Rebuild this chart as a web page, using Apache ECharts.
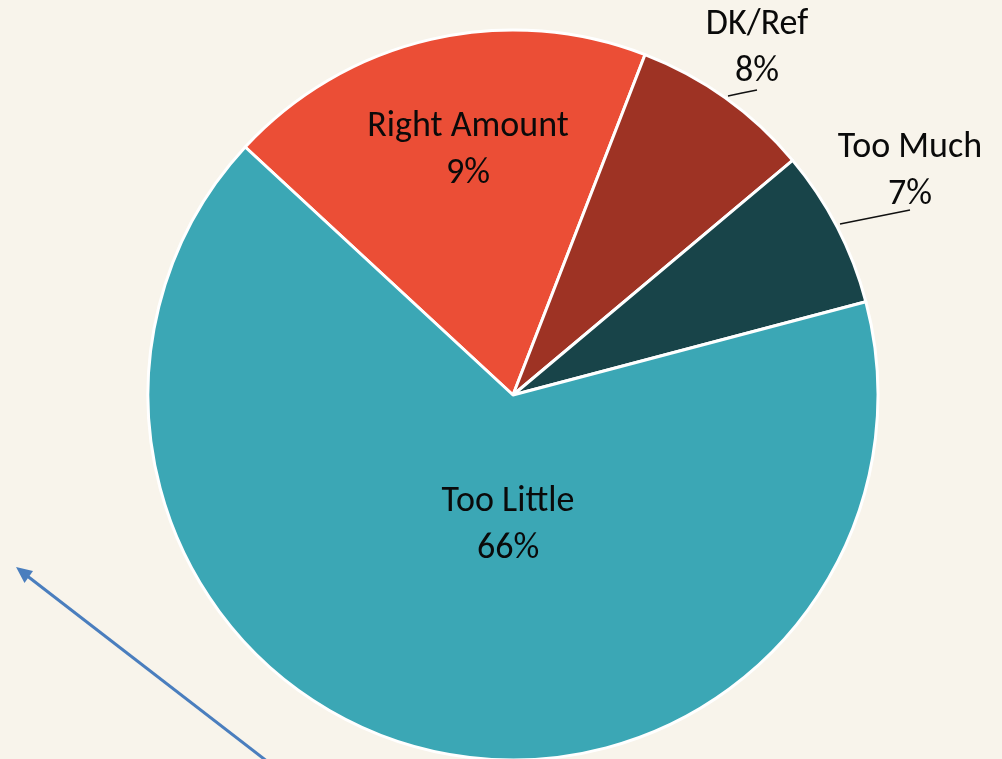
<!DOCTYPE html>
<html>
<head>
<meta charset="utf-8">
<script src="https://cdn.jsdelivr.net/npm/echarts@6/dist/echarts.min.js"></script>
<style>
  html, body { margin: 0; padding: 0; background: #f8f4eb; }
  #chart { width: 1002px; height: 759px; }
</style>
</head>
<body>
<div id="chart"></div>
<script>
// 数据（扇区大小按图形读取，标签文字照原图）
var categories = ['Right Amount', 'DK/Ref', 'Too Much', 'Too Little'];
var values = [19, 8, 7, 66];
var pctLabels = ['9%', '8%', '7%', '66%'];
var colors = ['#eb4e36', '#9e3324', '#184449', '#3ba7b5'];

// 标签位置（像素）及引导线
var labelPos = [[468, 150], [757, 48], [910, 171], [508, 525]];
var linePoints = [null, [[728, 96], [742, 93], [757, 90]], [[840, 224], [875, 217], [910, 210]], null];

var chart = echarts.init(document.getElementById('chart'));

var pieData = categories.map(function (name, i) {
  return {
    name: name,
    value: values[i],
    itemStyle: { color: colors[i] },
    labelLine: { show: !!linePoints[i] }
  };
});

chart.setOption({
  backgroundColor: '#f8f4eb',
  animation: false,
  series: [{
    type: 'pie',
    center: [513, 395],
    radius: 365,
    startAngle: 137.2,
    clockwise: true,
    data: pieData,
    itemStyle: { borderColor: '#ffffff', borderWidth: 3 },
    label: {
      show: true,
      position: 'outside',
      formatter: function (p) { return p.name + '\n' + pctLabels[p.dataIndex]; },
      fontFamily: 'Carlito, Lato, sans-serif',
      fontSize: 36,
      lineHeight: 47,
      color: '#0a0a0a',
      align: 'center',
      overflow: 'none'
    },
    labelLine: {
      lineStyle: { color: '#111111', width: 1.5 },
      length: 10,
      length2: 10
    },
    labelLayout: function (p) {
      var i = p.dataIndex;
      var o = { x: labelPos[i][0], y: labelPos[i][1], align: 'center', verticalAlign: 'middle', width: 260 };
      if (linePoints[i]) { o.labelLinePoints = linePoints[i]; }
      return o;
    }
  }],
  graphic: [{
    type: 'line',
    shape: { x1: 268, y1: 762, x2: 26, y2: 575 },
    style: { stroke: '#4a7ebe', lineWidth: 3 }
  }, {
    type: 'polygon',
    shape: { points: [[16, 567], [33, 571], [24.5, 583]] },
    style: { fill: '#4a7ebe' }
  }]
});

window.addEventListener('resize', function () { chart.resize(); });
</script>
</body>
</html>
